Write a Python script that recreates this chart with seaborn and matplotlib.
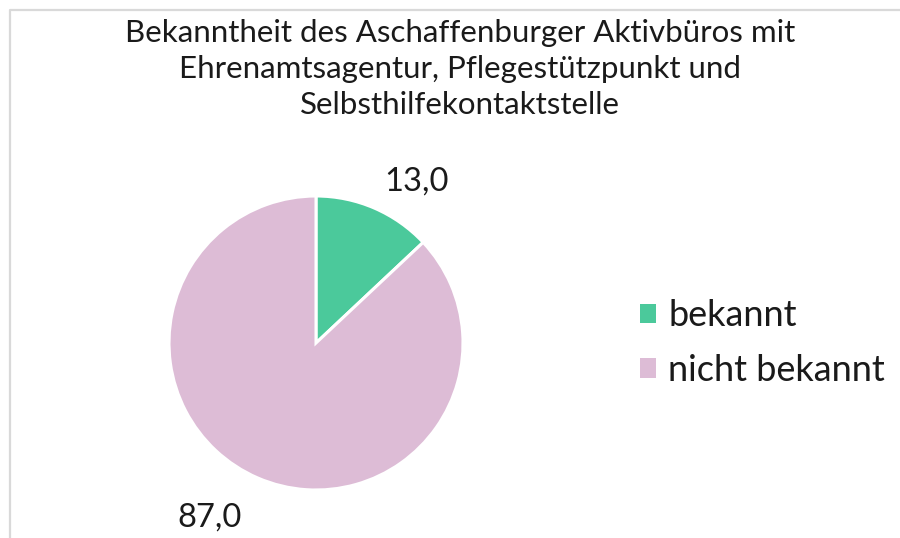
import matplotlib
matplotlib.use("Agg")
import matplotlib.pyplot as plt
import seaborn as sns
from matplotlib.lines import Line2D
from matplotlib.patches import Patch

categories = ["bekannt", "nicht bekannt"]
values = [13.0, 87.0]
colors = ["#4BC99B", "#DDBCD6"]
title = "Bekanntheit des Aschaffenburger Aktivbüros mit\nEhrenamtsagentur, Pflegestützpunkt und\nSelbsthilfekontaktstelle"

sns.set_theme(style="white")
plt.rcParams['font.family'] = ['Lato', 'DejaVu Sans']

fig = plt.figure(figsize=(9, 5.38), dpi=100)
fig.patch.set_facecolor("white")

# Frame (top and left visible)
fig.add_artist(Line2D([9.5/900, 9.5/900, 1.02], [-0.02, 1 - 9.5/538, 1 - 9.5/538],
                      transform=fig.transFigure, color="#D9D9D9", lw=1.6))

ax = fig.add_axes([(316-147)/900, (538-343-147)/538, 294/900, 294/538])
labels = [f"{v:.1f}".replace(".", ",") for v in values]
wedges, texts = ax.pie(values, colors=colors, startangle=90, counterclock=False,
                       labels=labels, labeldistance=1.25,
                       wedgeprops=dict(edgecolor="white", linewidth=2.2),
                       textprops=dict(fontsize=23.5, color="#1a1a1a"))
# fine-tune label placement (Excel "best fit" style)
x0, y0 = texts[0].get_position()
texts[0].set_position((x0 - 0.03, y0 - 0.05))
x1, y1 = texts[1].get_position()
texts[1].set_position((x1 - 0.01, y1 - 0.04))
ax.set_xlim(-1, 1)
ax.set_ylim(-1, 1)
ax.set_aspect("equal")
ax.axis("off")

fig.text(460/900, 1 - 69/538, title, ha="center", va="center", fontsize=22.5,
         color="#1a1a1a", linespacing=1.33)

handles = [Patch(facecolor=c, edgecolor="none") for c in colors]
fig.legend(handles, categories, loc="center left", bbox_to_anchor=(607/900, 1 - 343/538),
           frameon=False, fontsize=26, handlelength=0.45, handleheight=0.45,
           handletextpad=0.35, labelspacing=0.6, labelcolor="#1a1a1a")

fig.savefig("out.png", dpi=100)
